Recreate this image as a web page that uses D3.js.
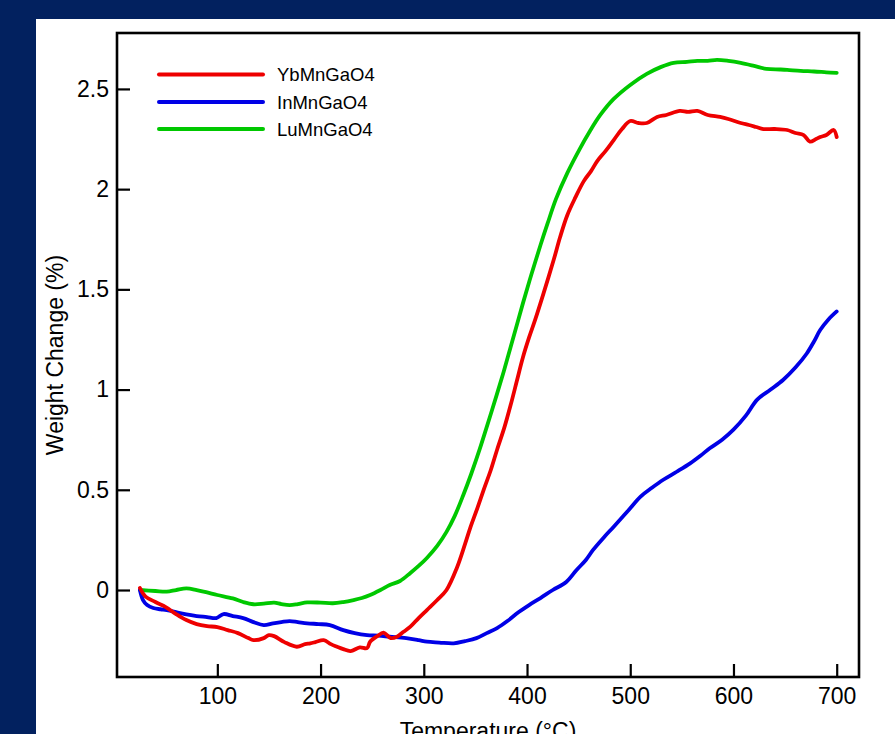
<!DOCTYPE html>
<html>
<head>
<meta charset="utf-8">
<script src="https://cdn.jsdelivr.net/npm/d3@7"></script>
<style>
  html, body { margin: 0; padding: 0; background: #02215f; }
  svg { display: block; }
  text { font-family: "Liberation Sans", Arial, Helvetica, sans-serif; fill: #000; }
</style>
</head>
<body>
<svg id="chart" width="895" height="734"></svg>
<script>
// ---- Data ----
const seriesNames = ["YbMnGaO4", "InMnGaO4", "LuMnGaO4"];
const seriesColors = ["#ee0000", "#0000e6", "#00c800"];

const ybT = [25,30,40,50,60,70,80,90,100,110,120,130,135,145,150,155,165,177,185,190,195,203,210,216,222,229,238,245,248,255,261,268,274,280,287,295,303,313,322,332,340,345,352,358,365,371,378,384,390,396,402,408,416,426,432,439,447,455,462,468,476,484,492,500,508,516,526,535,548,556,565,575,587,595,607,615,622,629,640,652,660,668,674,680,684,690,697,700];
const ybW = [0.01,-0.03,-0.06,-0.085,-0.12,-0.15,-0.17,-0.18,-0.185,-0.2,-0.215,-0.24,-0.25,-0.24,-0.225,-0.23,-0.26,-0.283,-0.27,-0.266,-0.26,-0.25,-0.27,-0.283,-0.295,-0.305,-0.286,-0.29,-0.258,-0.23,-0.213,-0.24,-0.233,-0.21,-0.183,-0.14,-0.1,-0.05,0.0,0.11,0.23,0.31,0.41,0.5,0.6,0.70,0.81,0.92,1.04,1.16,1.26,1.35,1.48,1.65,1.76,1.87,1.96,2.04,2.09,2.14,2.19,2.245,2.30,2.34,2.33,2.33,2.36,2.37,2.39,2.385,2.39,2.37,2.36,2.35,2.33,2.32,2.31,2.30,2.30,2.295,2.28,2.27,2.237,2.25,2.26,2.27,2.295,2.26];

const inT = [25,28,32,38,45,51,60,70,80,90,99,106,115,125,135,145,154,162,170,178,187,198,209,222,233,245,256,267,283,295,303,315,329,340,351,361,371,381,392,402,413,425,438,448,457,464,474,484,497,510,521,532,545,558,568,577,589,600,612,623,636,648,660,671,678,684,692,700];
const inW = [0,-0.05,-0.075,-0.09,-0.096,-0.1,-0.11,-0.122,-0.13,-0.135,-0.14,-0.12,-0.13,-0.14,-0.16,-0.175,-0.166,-0.16,-0.155,-0.16,-0.166,-0.17,-0.175,-0.2,-0.215,-0.225,-0.228,-0.233,-0.24,-0.25,-0.258,-0.262,-0.266,-0.255,-0.24,-0.215,-0.19,-0.155,-0.11,-0.075,-0.04,0.0,0.04,0.1,0.15,0.2,0.26,0.316,0.39,0.466,0.51,0.55,0.59,0.632,0.67,0.707,0.75,0.8,0.87,0.95,1.0,1.048,1.11,1.18,1.24,1.297,1.35,1.39];

const luT = [25,40,51,60,70,80,90,100,115,125,135,145,155,162,170,178,187,200,212,222,232,240,248,258,267,277,287,295,303,313,322,330,338,346,354,362,371,378,384,390,396,404,413,420,428,439,451,461,471,484,500,516,530,542,555,565,575,584,595,607,620,632,645,652,665,678,690,700];
const luW = [0,-0.005,-0.008,0.0,0.008,0.0,-0.012,-0.025,-0.042,-0.06,-0.071,-0.068,-0.063,-0.07,-0.075,-0.07,-0.062,-0.063,-0.066,-0.06,-0.05,-0.04,-0.025,0.0,0.025,0.045,0.085,0.12,0.16,0.22,0.29,0.37,0.47,0.58,0.70,0.83,0.98,1.10,1.21,1.32,1.43,1.57,1.72,1.83,1.95,2.08,2.2,2.29,2.37,2.45,2.52,2.575,2.61,2.63,2.635,2.64,2.64,2.645,2.64,2.63,2.615,2.60,2.597,2.595,2.59,2.587,2.583,2.58];

const xTicks = [100, 200, 300, 400, 500, 600, 700];
const yTicks = [0, 0.5, 1, 1.5, 2, 2.5];
const xTitle = "Temperature (°C)";
const yTitle = "Weight Change (%)";

// ---- Layout ----
const svg = d3.select("#chart");
const W = 895, H = 734;
const plot = { left: 117, top: 33, right: 859, bottom: 677 };

svg.append("rect").attr("x", 0).attr("y", 0).attr("width", W).attr("height", H).attr("fill", "#02215f");
svg.append("rect").attr("x", 36).attr("y", 19).attr("width", W - 36).attr("height", H - 19).attr("fill", "#ffffff");

const x = d3.scaleLinear().domain([2.8, 721.6]).range([plot.left, plot.right]);
const y = d3.scaleLinear().domain([-0.434, 2.779]).range([plot.bottom, plot.top]);

svg.append("clipPath").attr("id", "clip").append("rect")
  .attr("x", plot.left).attr("y", plot.top)
  .attr("width", plot.right - plot.left).attr("height", plot.bottom - plot.top);

const series = [
  { name: seriesNames[0], color: seriesColors[0], t: ybT, w: ybW },
  { name: seriesNames[1], color: seriesColors[1], t: inT, w: inW },
  { name: seriesNames[2], color: seriesColors[2], t: luT, w: luW }
];

const line = d3.line().x(d => x(d[0])).y(d => y(d[1])).curve(d3.curveCatmullRom.alpha(0.5));

const g = svg.append("g").attr("clip-path", "url(#clip)");
[series[2], series[1], series[0]].forEach(s => {
  const pts = s.t.map((t, i) => [t, s.w[i]]);
  g.append("path").datum(pts)
    .attr("d", line)
    .attr("fill", "none")
    .attr("stroke", s.color)
    .attr("stroke-width", 3.8)
    .attr("stroke-linejoin", "round")
    .attr("stroke-linecap", "round");
});

// axes
const xAxis = d3.axisBottom(x).tickValues(xTicks).tickFormat(d3.format("d"))
  .tickSizeInner(-13).tickSizeOuter(0).tickPadding(11);
const yAxis = d3.axisLeft(y).tickValues(yTicks).tickFormat(d => String(d))
  .tickSizeInner(-13).tickSizeOuter(0).tickPadding(8);

const gx = svg.append("g").attr("transform", `translate(0,${plot.bottom})`).call(xAxis);
const gy = svg.append("g").attr("transform", `translate(${plot.left},0)`).call(yAxis);
[gx, gy].forEach(a => {
  a.select(".domain").remove();
  a.selectAll(".tick line").attr("stroke", "#000").attr("stroke-width", 2.2);
  a.selectAll(".tick text").attr("font-size", 23).attr("fill", "#000")
    .attr("font-family", "'Liberation Sans', Arial, Helvetica, sans-serif");
});

// frame
svg.append("rect")
  .attr("x", plot.left).attr("y", plot.top)
  .attr("width", plot.right - plot.left).attr("height", plot.bottom - plot.top)
  .attr("fill", "none").attr("stroke", "#000").attr("stroke-width", 2.6);

// titles
svg.append("text")
  .attr("x", (plot.left + plot.right) / 2).attr("y", 739)
  .attr("text-anchor", "middle").attr("font-size", 23)
  .text(xTitle);
svg.append("text")
  .attr("transform", `translate(63,${(plot.top + plot.bottom) / 2}) rotate(-90)`)
  .attr("text-anchor", "middle").attr("font-size", 23)
  .text(yTitle);

// legend
const legY = [74.5, 102, 129];
series.forEach((s, i) => {
  svg.append("line")
    .attr("x1", 159).attr("x2", 263)
    .attr("y1", legY[i]).attr("y2", legY[i])
    .attr("stroke", s.color).attr("stroke-width", 4).attr("stroke-linecap", "round");
  svg.append("text")
    .attr("x", 277).attr("y", legY[i]).attr("dy", "0.36em")
    .attr("font-size", 18.5).text(s.name);
});
</script>
</body>
</html>
